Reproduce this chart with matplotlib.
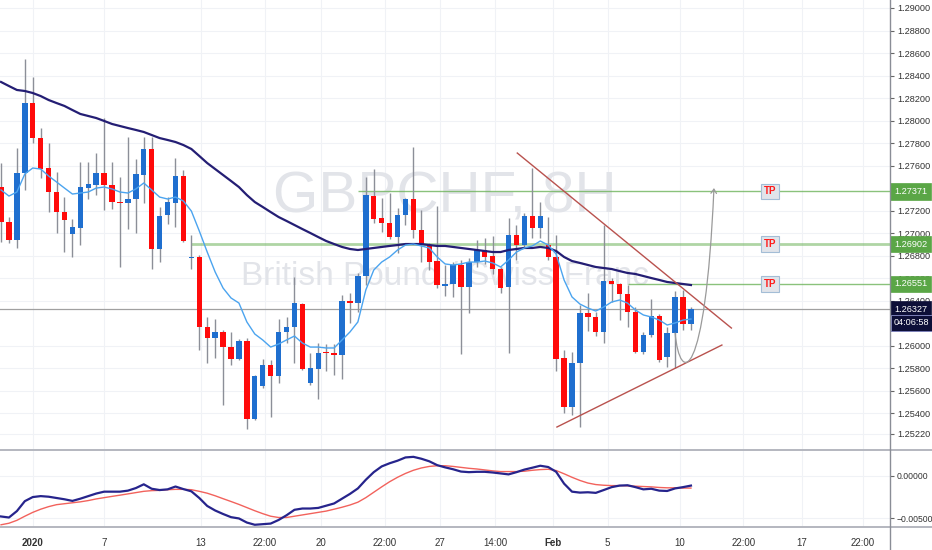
import numpy as np
import matplotlib
matplotlib.use('Agg')
import matplotlib.pyplot as plt
from matplotlib.path import Path
from matplotlib.patches import FancyArrowPatch

plt.rcParams['font.family'] = ['Liberation Sans', 'DejaVu Sans']

# ---------------- data (GBPCHF, 8H candles) ----------------
opens = [1.27410, 1.27100, 1.26940, 1.27535, 1.28156, 1.27845, 1.27579, 1.27366, 1.27188, 1.26993,
         1.27046, 1.27401, 1.27428, 1.27535, 1.27428, 1.27277, 1.27268, 1.27304, 1.27517, 1.27748,
         1.26860, 1.27162, 1.27268, 1.27508, 1.26780, 1.26789, 1.26167, 1.26069, 1.26123, 1.25989,
         1.25883, 1.26043, 1.25350, 1.25643, 1.25830, 1.25732, 1.26123, 1.26167, 1.26371, 1.25670,
         1.25794, 1.25945, 1.25936, 1.25919, 1.26398, 1.26380, 1.26620, 1.27330, 1.27135, 1.27091,
         1.26966, 1.27162, 1.27304, 1.27029, 1.26895, 1.26753, 1.26531, 1.26549, 1.26718, 1.26522,
         1.26744, 1.26851, 1.26798, 1.26682, 1.26522, 1.26984, 1.26895, 1.27153, 1.27046, 1.26895,
         1.26789, 1.25892, 1.25457, 1.25847, 1.26291, 1.26256, 1.26123, 1.26576, 1.26549, 1.26460,
         1.26300, 1.25945, 1.26096, 1.26265, 1.25901, 1.26114, 1.26434, 1.26194]
highs = [1.27623, 1.27144, 1.27757, 1.28547, 1.28387, 1.27934, 1.27801, 1.27544, 1.27321, 1.27126,
         1.27632, 1.27632, 1.27712, 1.28023, 1.27632, 1.27499, 1.27854, 1.27659, 1.27854, 1.27854,
         1.27233, 1.27321, 1.27668, 1.27561, 1.26984, 1.26807, 1.26256, 1.26238, 1.26141, 1.26123,
         1.26060, 1.26069, 1.25741, 1.25883, 1.25874, 1.26238, 1.26256, 1.26611, 1.26380, 1.25936,
         1.26025, 1.26016, 1.26016, 1.26451, 1.26469, 1.26647, 1.27499, 1.27570, 1.27313, 1.27357,
         1.27224, 1.27313, 1.27766, 1.27206, 1.26913, 1.27242, 1.26718, 1.26744, 1.26762, 1.26780,
         1.26940, 1.26957, 1.26975, 1.26700, 1.27135, 1.27073, 1.27180, 1.27579, 1.27277, 1.27144,
         1.26984, 1.25963, 1.25945, 1.26363, 1.26469, 1.26300, 1.27073, 1.26602, 1.26558, 1.26540,
         1.26345, 1.26123, 1.26416, 1.26282, 1.26167, 1.26487, 1.26496, 1.26345]
lows = [1.26922, 1.26913, 1.26869, 1.27384, 1.27801, 1.27490, 1.27188, 1.27002, 1.26833, 1.26789,
        1.26895, 1.27304, 1.27339, 1.27206, 1.27215, 1.26700, 1.27037, 1.27002, 1.27268, 1.26682,
        1.26744, 1.27082, 1.27055, 1.26922, 1.26682, 1.25963, 1.25847, 1.25892, 1.25475, 1.25830,
        1.25874, 1.25262, 1.25341, 1.25625, 1.25368, 1.25670, 1.26025, 1.25847, 1.25785, 1.25652,
        1.25528, 1.25776, 1.25741, 1.25705, 1.26203, 1.26300, 1.26540, 1.27091, 1.27011, 1.26948,
        1.26824, 1.27073, 1.26957, 1.26744, 1.26673, 1.26513, 1.26442, 1.26434, 1.25927, 1.26291,
        1.26700, 1.26727, 1.26638, 1.26469, 1.25936, 1.26762, 1.26878, 1.26957, 1.26957, 1.26762,
        1.25776, 1.25404, 1.25386, 1.25279, 1.26132, 1.26087, 1.26025, 1.26389, 1.26229, 1.26167,
        1.25936, 1.25927, 1.26078, 1.25856, 1.25812, 1.25803, 1.26141, 1.26141]
closes = [1.27100, 1.26940, 1.27535, 1.28156, 1.27845, 1.27570, 1.27366, 1.27188, 1.27117, 1.27055,
          1.27410, 1.27437, 1.27535, 1.27428, 1.27277, 1.27268, 1.27304, 1.27526, 1.27748, 1.26860,
          1.27153, 1.27277, 1.27508, 1.26931, 1.26789, 1.26167, 1.26069, 1.26123, 1.25989, 1.25883,
          1.26043, 1.25350, 1.25732, 1.25830, 1.25732, 1.26123, 1.26167, 1.26380, 1.25794, 1.25803,
          1.25936, 1.25936, 1.25919, 1.26398, 1.26380, 1.26620, 1.27339, 1.27126, 1.27091, 1.26966,
          1.27162, 1.27304, 1.27029, 1.26895, 1.26744, 1.26540, 1.26549, 1.26718, 1.26522, 1.26744,
          1.26851, 1.26789, 1.26682, 1.26513, 1.26984, 1.26895, 1.27153, 1.27046, 1.27153, 1.26789,
          1.25883, 1.25457, 1.25847, 1.26291, 1.26256, 1.26123, 1.26576, 1.26549, 1.26460, 1.26300,
          1.25945, 1.26096, 1.26265, 1.25874, 1.26114, 1.26434, 1.26194, 1.26327]
ma_slow = [1.28343, 1.28307, 1.28272, 1.28263, 1.28245, 1.28218, 1.28183, 1.28156, 1.28130, 1.28094,
           1.28059, 1.28041, 1.28023, 1.27997, 1.27970, 1.27952, 1.27934, 1.27917, 1.27899, 1.27872,
           1.27845, 1.27828, 1.27810, 1.27783, 1.27748, 1.27686, 1.27623, 1.27570, 1.27517, 1.27464,
           1.27410, 1.27339, 1.27277, 1.27233, 1.27188, 1.27144, 1.27109, 1.27073, 1.27037, 1.27002,
           1.26966, 1.26931, 1.26904, 1.26878, 1.26860, 1.26851, 1.26860, 1.26869, 1.26878, 1.26887,
           1.26895, 1.26904, 1.26904, 1.26904, 1.26895, 1.26887, 1.26887, 1.26878, 1.26869, 1.26860,
           1.26851, 1.26842, 1.26833, 1.26833, 1.26851, 1.26860, 1.26869, 1.26869, 1.26878, 1.26869,
           1.26842, 1.26789, 1.26753, 1.26736, 1.26718, 1.26700, 1.26691, 1.26682, 1.26664, 1.26647,
           1.26638, 1.26620, 1.26602, 1.26585, 1.26567, 1.26558, 1.26549, 1.26540]
ma_fast = [1.27384, 1.27330, 1.27366, 1.27526, 1.27579, 1.27570, 1.27508, 1.27455, 1.27401, 1.27348,
           1.27357, 1.27366, 1.27401, 1.27410, 1.27393, 1.27366, 1.27357, 1.27393, 1.27446, 1.27384,
           1.27321, 1.27304, 1.27321, 1.27286, 1.27197, 1.27020, 1.26833, 1.26656, 1.26513, 1.26425,
           1.26380, 1.26212, 1.26105, 1.26052, 1.25989, 1.26016, 1.26052, 1.26087, 1.26025, 1.25989,
           1.25989, 1.25981, 1.25981, 1.26052, 1.26123, 1.26212, 1.26496, 1.26673, 1.26744, 1.26789,
           1.26851, 1.26895, 1.26904, 1.26887, 1.26869, 1.26789, 1.26727, 1.26718, 1.26727, 1.26744,
           1.26744, 1.26753, 1.26736, 1.26700, 1.26762, 1.26833, 1.26869, 1.26887, 1.26931, 1.26895,
           1.26815, 1.26585, 1.26434, 1.26371, 1.26336, 1.26309, 1.26345, 1.26389, 1.26407, 1.26380,
           1.26318, 1.26274, 1.26256, 1.26229, 1.26185, 1.26203, 1.26229, 1.26238]
macd_line = [-0.00477, -0.00489, -0.00414, -0.00298, -0.00250, -0.00239, -0.00246, -0.00261, -0.00276, -0.00295,
             -0.00269, -0.00239, -0.00209, -0.00187, -0.00187, -0.00187, -0.00175, -0.00145, -0.00101, -0.00153,
             -0.00168, -0.00160, -0.00127, -0.00157, -0.00183, -0.00261, -0.00354, -0.00407, -0.00448, -0.00485,
             -0.00500, -0.00548, -0.00574, -0.00567, -0.00560, -0.00518, -0.00463, -0.00399, -0.00384, -0.00384,
             -0.00377, -0.00351, -0.00325, -0.00269, -0.00213, -0.00149, -0.00048, 0.00041, 0.00108, 0.00145,
             0.00175, 0.00213, 0.00220, 0.00198, 0.00168, 0.00123, 0.00097, 0.00075, 0.00048, 0.00041,
             0.00045, 0.00045, 0.00037, 0.00026, 0.00015, 0.00041, 0.00071, 0.00093, 0.00116, 0.00101,
             0.00045, -0.00093, -0.00187, -0.00198, -0.00194, -0.00201, -0.00168, -0.00134, -0.00116, -0.00112,
             -0.00134, -0.00160, -0.00153, -0.00175, -0.00179, -0.00149, -0.00134, -0.00116]
signal_line = [-0.00574, -0.00556, -0.00522, -0.00474, -0.00429, -0.00392, -0.00362, -0.00339, -0.00328, -0.00317,
               -0.00306, -0.00291, -0.00272, -0.00257, -0.00242, -0.00228, -0.00213, -0.00198, -0.00183, -0.00175,
               -0.00172, -0.00164, -0.00160, -0.00160, -0.00164, -0.00183, -0.00205, -0.00235, -0.00269, -0.00302,
               -0.00336, -0.00373, -0.00410, -0.00444, -0.00474, -0.00489, -0.00489, -0.00474, -0.00459, -0.00444,
               -0.00429, -0.00414, -0.00392, -0.00369, -0.00343, -0.00310, -0.00257, -0.00194, -0.00131, -0.00071,
               -0.00019, 0.00026, 0.00063, 0.00090, 0.00108, 0.00116, 0.00116, 0.00108, 0.00097, 0.00086,
               0.00078, 0.00067, 0.00056, 0.00048, 0.00048, 0.00048, 0.00052, 0.00063, 0.00071, 0.00075,
               0.00060, 0.00022, -0.00019, -0.00056, -0.00086, -0.00104, -0.00112, -0.00116, -0.00116, -0.00119,
               -0.00123, -0.00127, -0.00131, -0.00138, -0.00142, -0.00142, -0.00145, -0.00145]

tick_pos = [4.0, 13.0, 25.2, 33.3, 40.3, 48.4, 55.4, 62.3, 69.6, 76.5, 85.6, 93.6, 101.0, 108.7]
tick_labels = ['2020', '7', '13', '22:00', '20', '22:00', '27', '14:00', 'Feb', '5', '10', '22:00', '17', '22:00']
bold_labels = ['2020', 'Feb']
price_ticks = [1.29000, 1.28800, 1.28600, 1.28400, 1.28200, 1.28000, 1.27800, 1.27600,
               1.27200, 1.27000, 1.26800, 1.26600, 1.26400, 1.26000, 1.25800, 1.25600,
               1.25400, 1.25220]
macd_ticks = [0.0, -0.005]
macd_tick_labels = ['0.00000', '\u22120.00500']

tp_levels = [1.27371, 1.26902, 1.26551]
tp_start = [45, 24, 79]
tp_label_x = 97
last_price = 1.26327
countdown = '04:06:58'
symbol_text = 'GBPCHF, 8H'
name_text = 'British Pound / Swiss Franc'

# trend lines (index, price) and projected path
upper_trend = [(65.1, 1.27712), (92.1, 1.26158)]
lower_trend = [(70.1, 1.25279), (90.9, 1.26007)]
path_pts = [(85.0, 1.26114), (85.6, 1.25652), (88.8, 1.25652), (89.9, 1.27401)]

# ---------------- figure ----------------
W, H = 932, 550
fig = plt.figure(figsize=(W / 100, H / 100), dpi=100)
fig.patch.set_facecolor('white')
ax = fig.add_axes([0, 100 / H, 890 / W, 450 / H])
axm = fig.add_axes([0, 23 / H, 890 / W, 77 / H])

x = np.arange(len(opens))
o = np.array(opens); c = np.array(closes); hi = np.array(highs); lo = np.array(lows)
up = c >= o
col_up, col_dn = '#1f6fcf', '#ff0a0a'
colors = np.where(up, col_up, col_dn)

xlim = (-0.13, 112.1)
for a in (ax, axm):
    a.set_xlim(*xlim)
    for s in a.spines.values():
        s.set_visible(False)
    for tp in tick_pos:
        a.axvline(tp, color='#f0f2f6', lw=0.8, zorder=0.3)
ax.set_ylim(1.25075, 1.29071)
axm.set_ylim(-0.0060, 0.0030)

for pt in price_ticks:
    ax.axhline(pt, color='#f0f2f6', lw=0.8, zorder=0.3)
for mt in macd_ticks:
    axm.axhline(mt, color='#f0f2f6', lw=0.8, zorder=0.3)

# watermark
ax.text(0.5, 0.527, symbol_text, transform=ax.transAxes, ha='center', va='baseline',
        fontsize=42, color='#e2e4e9', zorder=0.5)
ax.text(0.5, 0.367, name_text, transform=ax.transAxes, ha='center', va='baseline',
        fontsize=24, color='#e2e4e9', zorder=0.5)

# TP lines
tp_lw = [1.0, 2.0, 1.0]
tp_alpha = [0.8, 0.55, 0.8]
for lvl, st, lw_, al in zip(tp_levels, tp_start, tp_lw, tp_alpha):
    ax.hlines(lvl, st, xlim[1], color='#6db35a', lw=lw_, alpha=al, zorder=1)
    ax.text(tp_label_x, lvl, 'TP', ha='center', va='center', fontsize=7, fontweight='bold',
            color='#ff1a1a', zorder=7,
            bbox=dict(boxstyle='square,pad=0.3', fc='#e1e4ea', ec='#a3bdd6', lw=0.8))

# current price line
ax.axhline(last_price, color='#a0a0a0', lw=0.9, zorder=1)

# candles
ax.vlines(x, lo, hi, color='#8c8f98', lw=1.0, zorder=2)
body_b = np.minimum(o, c)
body_h = np.maximum(np.abs(c - o), 0.00009)
ax.bar(x, body_h, bottom=body_b, width=0.68, color=colors, linewidth=0, zorder=3)

# moving averages
ax.plot(x, ma_slow, color='#241e74', lw=1.6, zorder=4)
ax.plot(x, ma_fast, color='#4ba4ef', lw=1.0, zorder=4)

# triangle
for seg in (upper_trend, lower_trend):
    ax.plot([seg[0][0], seg[1][0]], [seg[0][1], seg[1][1]], color='#b9524e', lw=1.0, zorder=5)

# projected path arrow
pth = Path(path_pts, [Path.MOVETO, Path.CURVE4, Path.CURVE4, Path.CURVE4])
arr = FancyArrowPatch(path=pth, arrowstyle='->,head_length=3,head_width=2', color='#9a9a9a',
                      lw=0.9, zorder=5)
ax.add_patch(arr)

# right price axis
ax.yaxis.tick_right()
ax.set_yticks(price_ticks)
ax.set_yticklabels(['%.5f' % p for p in price_ticks])
ax.tick_params(axis='y', length=3, width=0.8, color='#666666', labelsize=6.6,
               labelcolor='#333333', pad=2)
ax.tick_params(axis='x', length=0, labelbottom=False)

ytr = ax.get_yaxis_transform()
for lvl in tp_levels:
    ax.text(1.0 + 4 / 890, lvl, '%.5f' % lvl, transform=ytr, ha='left', va='center', fontsize=6.6,
            color='white', zorder=10, clip_on=False,
            bbox=dict(boxstyle='square,pad=0.4', fc='#5aa646', ec='#5aa646', lw=0.5))
ax.text(1.0 + 4 / 890, last_price, '%.5f' % last_price, transform=ytr, ha='left', va='center',
        fontsize=6.6, color='white', zorder=10, clip_on=False,
        bbox=dict(boxstyle='square,pad=0.4', fc='#0d0f38', ec='#0d0f38', lw=0.5))
ax.annotate(countdown, xy=(1.0 + 4 / 890, last_price), xycoords=ytr, xytext=(0, -10),
            textcoords='offset points', ha='left', va='center', fontsize=6.6, color='white',
            zorder=10, annotation_clip=False,
            bbox=dict(boxstyle='square,pad=0.35', fc='#0d0f38', ec='#7c80b8', lw=0.7))

# MACD pane
axm.plot(x, signal_line, color='#f2625c', lw=1.0, zorder=3)
axm.plot(x, macd_line, color='#26248c', lw=1.6, zorder=4)
axm.yaxis.tick_right()
axm.set_yticks(macd_ticks)
axm.set_yticklabels(macd_tick_labels)
axm.tick_params(axis='y', length=3, width=0.8, color='#666666', labelsize=6.2,
                labelcolor='#333333', pad=1.5)
axm.set_xticks(tick_pos)
axm.set_xticklabels(tick_labels)
axm.tick_params(axis='x', length=0, labelsize=7, labelcolor='#333333', pad=8)
for lab in axm.get_xticklabels():
    if lab.get_text() in bold_labels:
        lab.set_fontweight('bold')

# pane separators and price-axis line
fig.add_artist(plt.Line2D([0, 1], [100 / H, 100 / H], color='#b4b7bf', lw=1.4))
fig.add_artist(plt.Line2D([0, 1], [23 / H, 23 / H], color='#b4b7bf', lw=1.4))
fig.add_artist(plt.Line2D([890 / W, 890 / W], [0, 1], color='#8a8d96', lw=1.0))

fig.savefig('out.png', dpi=100, facecolor='white')
